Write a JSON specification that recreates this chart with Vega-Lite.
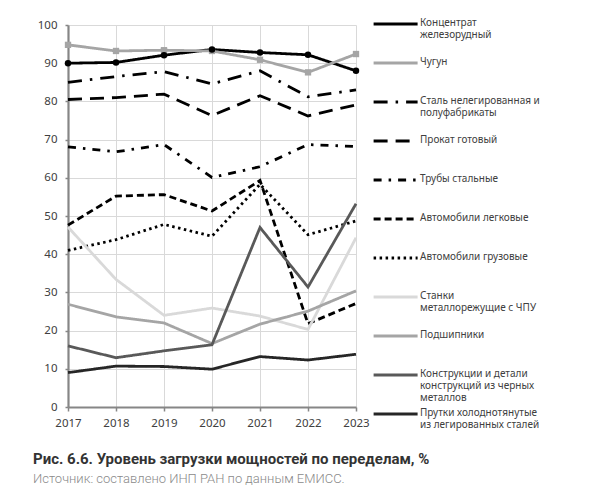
{
  "$schema": "https://vega.github.io/schema/vega-lite/v6.json",
  "autosize": {"type": "none"},
  "width": 288,
  "height": 382,
  "padding": {"left": 68, "top": 25, "right": 236, "bottom": 89},
  "background": "white",
  "title": {
    "text": "Рис. 6.6. Уровень загрузки мощностей по переделам, %",
    "subtitle": "Источник: составлено ИНП РАН по данным ЕМИСС.",
    "orient": "bottom",
    "anchor": "start",
    "frame": "group",
    "dx": -35,
    "offset": 22,
    "font": "Roboto",
    "fontSize": 15,
    "fontWeight": "bold",
    "color": "#333333",
    "subtitleFont": "Roboto",
    "subtitleFontSize": 13,
    "subtitleFontWeight": 300,
    "subtitleColor": "#8a8a8a",
    "subtitlePadding": 6
  },
  "data": {
    "values": [
      {"year": 2017, "series": "Концентрат|железорудный", "value": 90.0},
      {"year": 2018, "series": "Концентрат|железорудный", "value": 90.2},
      {"year": 2019, "series": "Концентрат|железорудный", "value": 92.1},
      {"year": 2020, "series": "Концентрат|железорудный", "value": 93.6},
      {"year": 2021, "series": "Концентрат|железорудный", "value": 92.8},
      {"year": 2022, "series": "Концентрат|железорудный", "value": 92.2},
      {"year": 2023, "series": "Концентрат|железорудный", "value": 88.0},
      {"year": 2017, "series": "Чугун", "value": 94.8},
      {"year": 2018, "series": "Чугун", "value": 93.2},
      {"year": 2019, "series": "Чугун", "value": 93.4},
      {"year": 2020, "series": "Чугун", "value": 93.2},
      {"year": 2021, "series": "Чугун", "value": 90.9},
      {"year": 2022, "series": "Чугун", "value": 87.6},
      {"year": 2023, "series": "Чугун", "value": 92.4},
      {"year": 2017, "series": "Сталь нелегированная и|полуфабрикаты", "value": 85.0},
      {"year": 2018, "series": "Сталь нелегированная и|полуфабрикаты", "value": 86.5},
      {"year": 2019, "series": "Сталь нелегированная и|полуфабрикаты", "value": 87.8},
      {"year": 2020, "series": "Сталь нелегированная и|полуфабрикаты", "value": 84.6},
      {"year": 2021, "series": "Сталь нелегированная и|полуфабрикаты", "value": 88.0},
      {"year": 2022, "series": "Сталь нелегированная и|полуфабрикаты", "value": 81.2},
      {"year": 2023, "series": "Сталь нелегированная и|полуфабрикаты", "value": 83.0},
      {"year": 2017, "series": "Прокат готовый", "value": 80.5},
      {"year": 2018, "series": "Прокат готовый", "value": 81.0},
      {"year": 2019, "series": "Прокат готовый", "value": 81.9},
      {"year": 2020, "series": "Прокат готовый", "value": 76.3},
      {"year": 2021, "series": "Прокат готовый", "value": 81.5},
      {"year": 2022, "series": "Прокат готовый", "value": 76.2},
      {"year": 2023, "series": "Прокат готовый", "value": 79.1},
      {"year": 2017, "series": "Трубы стальные", "value": 68.1},
      {"year": 2018, "series": "Трубы стальные", "value": 66.8},
      {"year": 2019, "series": "Трубы стальные", "value": 68.7},
      {"year": 2020, "series": "Трубы стальные", "value": 60.1},
      {"year": 2021, "series": "Трубы стальные", "value": 62.9},
      {"year": 2022, "series": "Трубы стальные", "value": 68.7},
      {"year": 2023, "series": "Трубы стальные", "value": 68.2},
      {"year": 2017, "series": "Автомобили легковые", "value": 47.6},
      {"year": 2018, "series": "Автомобили легковые", "value": 55.2},
      {"year": 2019, "series": "Автомобили легковые", "value": 55.6},
      {"year": 2020, "series": "Автомобили легковые", "value": 51.3},
      {"year": 2021, "series": "Автомобили легковые", "value": 59.3},
      {"year": 2022, "series": "Автомобили легковые", "value": 21.8},
      {"year": 2023, "series": "Автомобили легковые", "value": 27.1},
      {"year": 2017, "series": "Автомобили грузовые", "value": 41.0},
      {"year": 2018, "series": "Автомобили грузовые", "value": 43.8},
      {"year": 2019, "series": "Автомобили грузовые", "value": 47.8},
      {"year": 2020, "series": "Автомобили грузовые", "value": 44.7},
      {"year": 2021, "series": "Автомобили грузовые", "value": 58.3},
      {"year": 2022, "series": "Автомобили грузовые", "value": 45.1},
      {"year": 2023, "series": "Автомобили грузовые", "value": 48.7},
      {"year": 2017, "series": "Станки|металлорежущие с ЧПУ", "value": 47.1},
      {"year": 2018, "series": "Станки|металлорежущие с ЧПУ", "value": 33.4},
      {"year": 2019, "series": "Станки|металлорежущие с ЧПУ", "value": 24.0},
      {"year": 2020, "series": "Станки|металлорежущие с ЧПУ", "value": 25.9},
      {"year": 2021, "series": "Станки|металлорежущие с ЧПУ", "value": 23.8},
      {"year": 2022, "series": "Станки|металлорежущие с ЧПУ", "value": 20.3},
      {"year": 2023, "series": "Станки|металлорежущие с ЧПУ", "value": 44.3},
      {"year": 2017, "series": "Подшипники", "value": 26.9},
      {"year": 2018, "series": "Подшипники", "value": 23.6},
      {"year": 2019, "series": "Подшипники", "value": 22.0},
      {"year": 2020, "series": "Подшипники", "value": 16.6},
      {"year": 2021, "series": "Подшипники", "value": 21.7},
      {"year": 2022, "series": "Подшипники", "value": 25.1},
      {"year": 2023, "series": "Подшипники", "value": 30.4},
      {"year": 2017, "series": "Конструкции и детали|конструкций из черных|металлов", "value": 16.0},
      {"year": 2018, "series": "Конструкции и детали|конструкций из черных|металлов", "value": 12.9},
      {"year": 2019, "series": "Конструкции и детали|конструкций из черных|металлов", "value": 14.7},
      {"year": 2020, "series": "Конструкции и детали|конструкций из черных|металлов", "value": 16.3},
      {"year": 2021, "series": "Конструкции и детали|конструкций из черных|металлов", "value": 47.0},
      {"year": 2022, "series": "Конструкции и детали|конструкций из черных|металлов", "value": 31.4},
      {"year": 2023, "series": "Конструкции и детали|конструкций из черных|металлов", "value": 53.2},
      {"year": 2017, "series": "Прутки холоднотянутые|из легированных сталей", "value": 9.0},
      {"year": 2018, "series": "Прутки холоднотянутые|из легированных сталей", "value": 10.7},
      {"year": 2019, "series": "Прутки холоднотянутые|из легированных сталей", "value": 10.6},
      {"year": 2020, "series": "Прутки холоднотянутые|из легированных сталей", "value": 9.9},
      {"year": 2021, "series": "Прутки холоднотянутые|из легированных сталей", "value": 13.2},
      {"year": 2022, "series": "Прутки холоднотянутые|из легированных сталей", "value": 12.3},
      {"year": 2023, "series": "Прутки холоднотянутые|из легированных сталей", "value": 13.8}
    ]
  },
  "encoding": {
    "x": {
      "field": "year",
      "type": "quantitative",
      "scale": {"domain": [2017, 2023], "nice": false, "zero": false},
      "axis": {
        "title": null,
        "values": [2017, 2018, 2019, 2020, 2021, 2022, 2023],
        "format": "d",
        "tickSize": 4,
        "labelPadding": 6,
        "labelFlush": false
      }
    },
    "y": {
      "field": "value",
      "type": "quantitative",
      "scale": {"domain": [0, 100], "nice": false},
      "axis": {
        "title": null,
        "values": [0, 10, 20, 30, 40, 50, 60, 70, 80, 90, 100],
        "tickSize": 3,
        "labelPadding": 8
      }
    }
  },
  "layer": [
    {
      "mark": {"type": "line", "strokeWidth": 2.8, "strokeCap": "butt", "strokeJoin": "miter"},
      "encoding": {
        "color": {
          "field": "series",
          "type": "nominal",
          "scale": {
            "domain": [
              "Концентрат|железорудный", "Чугун", "Сталь нелегированная и|полуфабрикаты", "Прокат готовый",
              "Трубы стальные", "Автомобили легковые", "Автомобили грузовые", "Станки|металлорежущие с ЧПУ",
              "Подшипники", "Конструкции и детали|конструкций из черных|металлов", "Прутки холоднотянутые|из легированных сталей"
            ],
            "range": ["#000000", "#a5a5a5", "#000000", "#000000", "#000000", "#000000", "#000000", "#d9d9d9", "#a5a5a5", "#595959", "#262626"]
          },
          "legend": {
            "orient": "none",
            "legendX": 302,
            "legendY": -12,
            "title": null,
            "symbolType": "M-1.4,6H42.6",
            "symbolSize": 4,
            "symbolStrokeWidth": 2.8,
            "labelExpr": "split(datum.label, '|')",
            "labelFont": "Noto Sans",
            "labelFontSize": 10,
            "labelColor": "#404040",
            "labelLimit": 220,
            "labelOffset": 40,
            "labelBaseline": "top",
            "gridAlign": "all",
            "rowPadding": 0
          }
        },
        "strokeDash": {
          "field": "series",
          "type": "nominal",
          "scale": {
            "domain": [
              "Концентрат|железорудный", "Чугун", "Сталь нелегированная и|полуфабрикаты", "Прокат готовый",
              "Трубы стальные", "Автомобили легковые", "Автомобили грузовые", "Станки|металлорежущие с ЧПУ",
              "Подшипники", "Конструкции и детали|конструкций из черных|металлов", "Прутки холоднотянутые|из легированных сталей"
            ],
            "range": [[1, 0], [1, 0], [14, 8, 2.5, 8], [14, 8], [8, 7, 2.5, 7], [7, 4], [2.5, 3.5], [1, 0], [1, 0], [1, 0], [1, 0]]
          }
        }
      }
    },
    {
      "transform": [{"filter": "datum.series == 'Чугун'"}],
      "mark": {"type": "point", "shape": "square", "filled": true, "size": 40, "color": "#a5a5a5", "opacity": 1}
    },
    {
      "transform": [{"filter": "datum.series == 'Концентрат|железорудный'"}],
      "mark": {"type": "point", "shape": "circle", "filled": true, "size": 42, "color": "#000000", "opacity": 1}
    }
  ],
  "config": {
    "view": {"stroke": null},
    "axis": {
      "gridColor": "#d9d9d9",
      "gridWidth": 1,
      "domainColor": "#868686",
      "domainWidth": 2.2,
      "tickColor": "#868686",
      "tickWidth": 1.5,
      "labelFont": "Noto Sans",
      "labelFontSize": 11.5,
      "labelColor": "#404040"
    }
  }
}
